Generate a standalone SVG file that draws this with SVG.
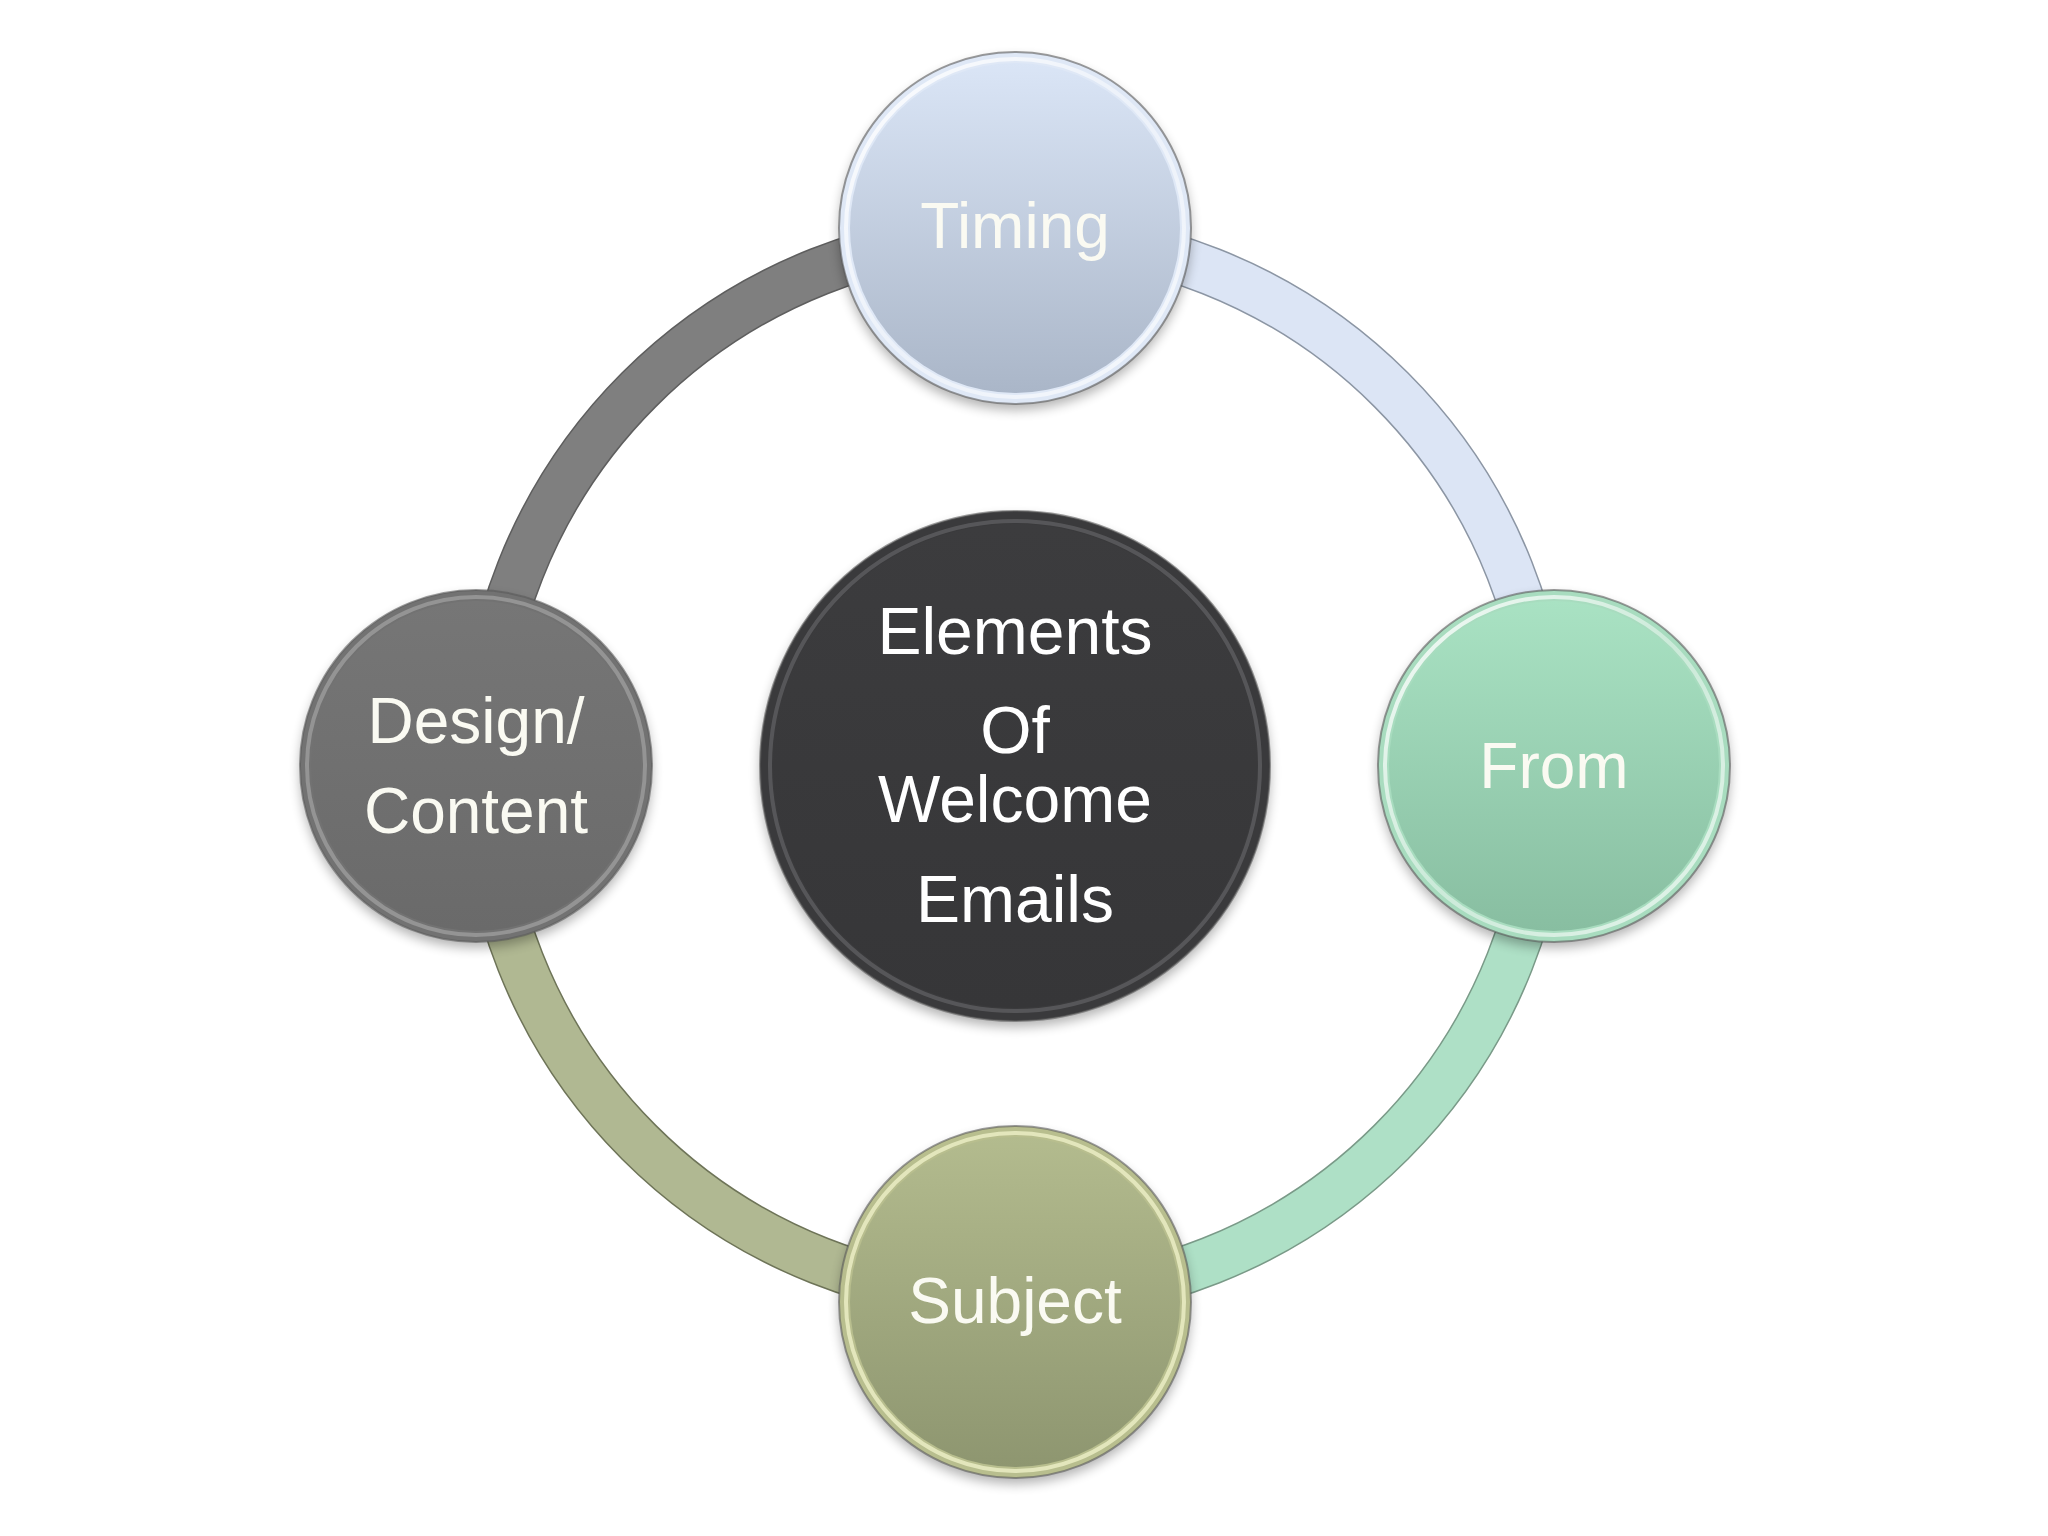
<svg xmlns="http://www.w3.org/2000/svg" width="2048" height="1536" viewBox="0 0 2048 1536">
<defs>
<style>
.arc-o{fill:none;stroke-width:49;stroke-linecap:butt}
.arc{fill:none;stroke-width:46;stroke-linecap:butt}
.lbl{font-family:"Liberation Sans",Arial,sans-serif;font-size:64px;fill:#fafaf2;text-anchor:middle}
.ctr{font-family:"Liberation Sans",Arial,sans-serif;font-size:66px;fill:#ffffff;text-anchor:middle}
.edge{stroke:#5a5a5a;stroke-opacity:0.6;stroke-width:2}
.hl{fill:none;stroke:url(#hlg);stroke-width:4}
</style>
<filter id="sh" x="-20%" y="-20%" width="140%" height="140%"><feGaussianBlur stdDeviation="6"/></filter>
<linearGradient id="hlg" x1="0" y1="0" x2="1" y2="1"><stop offset="0" stop-color="#fff" stop-opacity="0.9"/><stop offset="0.5" stop-color="#fff" stop-opacity="0.4"/><stop offset="1" stop-color="#fff" stop-opacity="0.7"/></linearGradient>
<linearGradient id="gT" x1="0" y1="0" x2="0" y2="1"><stop offset="0" stop-color="#dae5f6"/><stop offset="1" stop-color="#aab6c8"/></linearGradient>
<linearGradient id="gF" x1="0" y1="0" x2="0" y2="1"><stop offset="0" stop-color="#a9e2c3"/><stop offset="1" stop-color="#88bea1"/></linearGradient>
<linearGradient id="gS" x1="0" y1="0" x2="0" y2="1"><stop offset="0" stop-color="#b3bb8e"/><stop offset="1" stop-color="#8e9670"/></linearGradient>
<linearGradient id="gD" x1="0" y1="0" x2="0" y2="1"><stop offset="0" stop-color="#767676"/><stop offset="1" stop-color="#6a6a6a"/></linearGradient>
<linearGradient id="gC" x1="0" y1="0" x2="0" y2="1"><stop offset="0" stop-color="#3c3c3e"/><stop offset="1" stop-color="#363638"/></linearGradient>
</defs>
<rect width="2048" height="1536" fill="#ffffff"/>
<g id="connectors">
<path class="arc-o" stroke="#8c96a4" d="M1015 234 A532 532 0 0 1 1547 766"/>
<path class="arc" stroke="#dce5f5" d="M1015 234 A532 532 0 0 1 1547 766"/>
<path class="arc-o" stroke="#7a9a88" d="M1547 766 A532 532 0 0 1 1015 1298"/>
<path class="arc" stroke="#aee0c6" d="M1547 766 A532 532 0 0 1 1015 1298"/>
<path class="arc-o" stroke="#6e7458" d="M1015 1298 A532 532 0 0 1 483 766"/>
<path class="arc" stroke="#b0b892" d="M1015 1298 A532 532 0 0 1 483 766"/>
<path class="arc-o" stroke="#5e5e5e" d="M483 766 A532 532 0 0 1 1015 234"/>
<path class="arc" stroke="#7f7f7f" d="M483 766 A532 532 0 0 1 1015 234"/>
</g>
<g id="node-center">
<circle cx="1015" cy="772" r="255" fill="#000" opacity="0.3" filter="url(#sh)"/>
<circle class="edge" cx="1015" cy="766" r="255" fill="#3a3a3c"/>
<circle cx="1015" cy="766" r="245" fill="none" stroke="#5e5e60" stroke-width="4" stroke-opacity="0.8"/>
<circle cx="1015" cy="766" r="242" fill="url(#gC)"/>
<text class="ctr" x="1015" y="654">Elements</text>
<text class="ctr" x="1015" y="753">Of</text>
<text class="ctr" x="1015" y="822">Welcome</text>
<text class="ctr" x="1015" y="922">Emails</text>
</g>
<g id="node-timing">
<circle cx="1015" cy="234" r="176" fill="#000" opacity="0.3" filter="url(#sh)"/>
<circle class="edge" cx="1015" cy="228" r="176" fill="#dfe8f6"/>
<circle class="hl" cx="1015" cy="228" r="169"/>
<circle cx="1015" cy="228" r="165" fill="url(#gT)"/>
<text class="lbl" x="1015" y="248">Timing</text>
</g>
<g id="node-from">
<circle cx="1554" cy="772" r="176" fill="#000" opacity="0.3" filter="url(#sh)"/>
<circle class="edge" cx="1554" cy="766" r="176" fill="#a8dcbf"/>
<circle class="hl" cx="1554" cy="766" r="169"/>
<circle cx="1554" cy="766" r="165" fill="url(#gF)"/>
<text class="lbl" x="1554" y="788">From</text>
</g>
<g id="node-subject">
<circle cx="1015" cy="1308" r="176" fill="#000" opacity="0.3" filter="url(#sh)"/>
<circle class="edge" cx="1015" cy="1302" r="176" fill="#b8be8e"/>
<circle cx="1015" cy="1302" r="169" fill="none" stroke="#eef0c8" stroke-width="4" stroke-opacity="0.8"/>
<circle cx="1015" cy="1302" r="165" fill="url(#gS)"/>
<text class="lbl" x="1015" y="1323">Subject</text>
</g>
<g id="node-design">
<circle cx="476" cy="772" r="176" fill="#000" opacity="0.3" filter="url(#sh)"/>
<circle class="edge" cx="476" cy="766" r="176" fill="#727272"/>
<circle cx="476" cy="766" r="169" fill="none" stroke="#9c9c9c" stroke-width="4" stroke-opacity="0.8"/>
<circle cx="476" cy="766" r="165" fill="url(#gD)"/>
<text class="lbl" x="476" y="743">Design/</text>
<text class="lbl" x="476" y="833">Content</text>
</g>
</svg>
